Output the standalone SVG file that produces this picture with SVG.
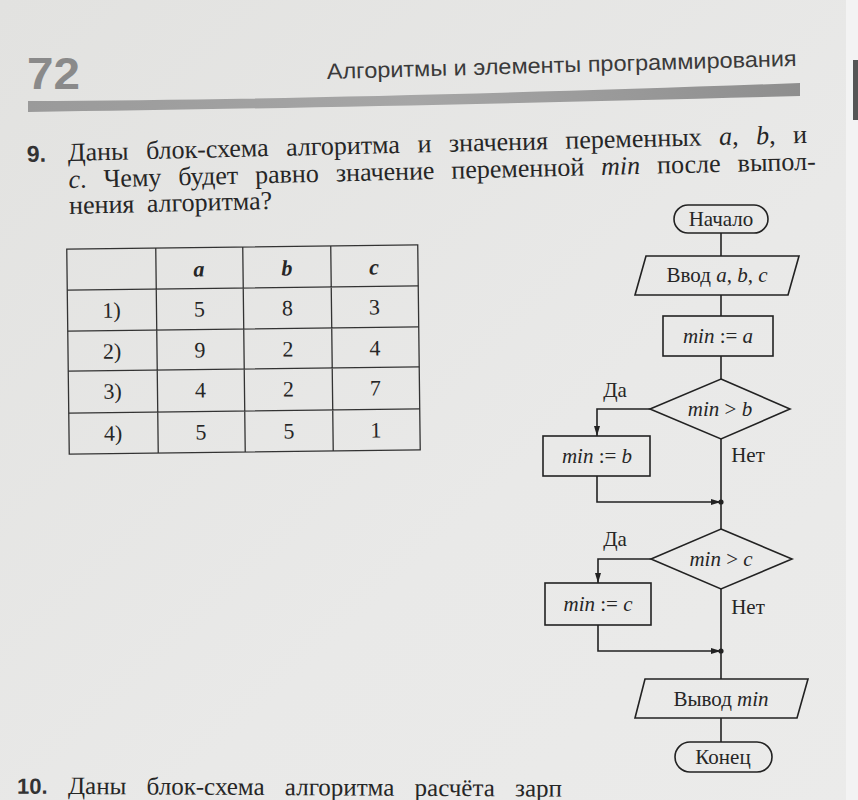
<svg xmlns="http://www.w3.org/2000/svg" width="858" height="800" viewBox="0 0 858 800">
<defs>
<linearGradient id="bg" x1="0" y1="0" x2="1" y2="1">
<stop offset="0" stop-color="#e2e2e0"/>
<stop offset="0.6" stop-color="#e9e9e8"/>
<stop offset="1" stop-color="#ebebea"/>
</linearGradient>
<linearGradient id="band" x1="0" y1="0" x2="1" y2="0">
<stop offset="0" stop-color="#9a9a9a"/>
<stop offset="0.5" stop-color="#a6a6a6"/>
<stop offset="1" stop-color="#8e8e8e"/>
</linearGradient>
<marker id="arr" viewBox="0 0 10 6" refX="10" refY="3" markerWidth="10" markerHeight="6" markerUnits="userSpaceOnUse" orient="auto">
<path d="M0,0 L10,3 L0,6 Z" fill="#222"/>
</marker>
</defs>
<style>
.serif{font-family:"Liberation Serif","DejaVu Serif",serif;fill:#262626}
.sans{font-family:"Liberation Sans","DejaVu Sans",sans-serif}
.it{font-style:italic}
.body{font-size:26px}
.cell{font-size:22px;text-anchor:middle}
.fc{font-size:21px;text-anchor:middle}
.shape{fill:none;stroke:#222;stroke-width:1.6}
.conn{fill:none;stroke:#222;stroke-width:1.6}
.grid{fill:none;stroke:#333;stroke-width:1.3}
</style>
<rect x="0" y="0" width="858" height="800" fill="url(#bg)"/>
<rect x="846" y="0" width="12" height="800" fill="#f3f3f3"/>
<rect x="853" y="60" width="5" height="60" fill="#555"/>

<!-- header -->
<g id="header">
<text x="27" y="89" class="sans" font-size="45" font-weight="bold" fill="#8a8a8a" textLength="53" lengthAdjust="spacingAndGlyphs">72</text>
<text x="327" y="79" class="sans" font-size="22" fill="#3a3a3a" textLength="470" lengthAdjust="spacingAndGlyphs" transform="rotate(-1.6 327 79)">Алгоритмы и элементы программирования</text>
<path d="M28,101 C250,100 500,94 800,83 L800,96 C500,104 250,109 28,112 Z" fill="url(#band)"/>
</g>

<!-- question text -->
<g id="question">
<g transform="rotate(-1.4 68 161)">
<text x="27" y="161" class="sans" font-size="23" font-weight="bold" fill="#333">9.</text>
<text x="68" y="161" class="serif body" word-spacing="11">Даны блок-схема алгоритма и значения переменных <tspan class="it">a</tspan>, <tspan class="it">b</tspan>, и</text>
<text x="68" y="188" class="serif body" word-spacing="10.5"><tspan class="it">c</tspan>. Чему будет равно значение переменной <tspan class="it">min</tspan> после выпол-</text>
<text x="68" y="214" class="serif body" word-spacing="6">нения алгоритма?</text>
</g>
</g>

<!-- table -->
<g id="table" transform="rotate(-0.7 243 350)">
<rect x="68" y="247" width="351" height="205" class="grid"/>
<path d="M157,247 V452 M244,247 V452 M332,247 V452 M68,288 H419 M68,329 H419 M68,369 H419 M68,411 H419" class="grid"/>
<g class="serif cell">
<text x="200" y="276" font-weight="bold" font-style="italic">a</text>
<text x="288" y="276" font-weight="bold" font-style="italic">b</text>
<text x="375" y="276" font-weight="bold" font-style="italic">c</text>
<text x="112" y="316">1)</text><text x="200" y="316">5</text><text x="288" y="316">8</text><text x="375" y="316">3</text>
<text x="112" y="357">2)</text><text x="200" y="357">9</text><text x="288" y="357">2</text><text x="375" y="357">4</text>
<text x="112" y="397">3)</text><text x="200" y="397">4</text><text x="288" y="397">2</text><text x="375" y="397">7</text>
<text x="112" y="439">4)</text><text x="200" y="439">5</text><text x="288" y="439">5</text><text x="375" y="439">1</text>
</g>
</g>

<!-- connectors -->
<g id="connectors">
<path class="conn" d="M721,233 V256"/>
<path class="conn" d="M721,295 V316"/>
<path class="conn" d="M721,356 V379"/>
<path class="conn" d="M650,409 H597 V436" marker-end="url(#arr)"/>
<path class="conn" d="M721,439 V529"/>
<path class="conn" d="M597,476 V502 H721" marker-end="url(#arr)"/>
<circle cx="721" cy="502" r="2.6" fill="#222"/>
<path class="conn" d="M651,559 H598 V583" marker-end="url(#arr)"/>
<path class="conn" d="M721,589 V679"/>
<path class="conn" d="M598,625 V651 H721" marker-end="url(#arr)"/>
<circle cx="721" cy="651" r="2.6" fill="#222"/>
<path class="conn" d="M721,718 V742"/>
</g>

<!-- flowchart nodes -->
<g id="start">
<rect x="674" y="205" width="94" height="28" rx="14" class="shape"/>
<text x="721" y="226" class="serif fc">Начало</text>
</g>
<g id="input">
<polygon points="646,256 799,256 788,295 635,295" class="shape"/>
<text x="717" y="282" class="serif fc">Ввод <tspan class="it">a</tspan>, <tspan class="it">b</tspan>, <tspan class="it">c</tspan></text>
</g>
<g id="assign-a">
<rect x="663" y="316" width="110" height="40" class="shape"/>
<text x="718" y="343" class="serif fc"><tspan class="it">min</tspan> := <tspan class="it">a</tspan></text>
</g>
<g id="cond-b">
<polygon points="721,379 790,409 721,439 650,409" class="shape"/>
<text x="720" y="416" class="serif fc"><tspan class="it">min</tspan> &gt; <tspan class="it">b</tspan></text>
</g>
<g id="yes-b"><text x="615" y="397" class="serif fc">Да</text></g>
<g id="no-b"><text x="748" y="462" class="serif fc">Нет</text></g>
<g id="assign-b">
<rect x="543" y="436" width="107" height="40" class="shape"/>
<text x="597" y="463" class="serif fc"><tspan class="it">min</tspan> := <tspan class="it">b</tspan></text>
</g>
<g id="cond-c">
<polygon points="721,529 792,559 721,589 651,559" class="shape"/>
<text x="721" y="566" class="serif fc"><tspan class="it">min</tspan> &gt; <tspan class="it">c</tspan></text>
</g>
<g id="yes-c"><text x="615" y="546" class="serif fc">Да</text></g>
<g id="no-c"><text x="748" y="614" class="serif fc">Нет</text></g>
<g id="assign-c">
<rect x="545" y="583" width="106" height="42" class="shape"/>
<text x="598" y="611" class="serif fc"><tspan class="it">min</tspan> := <tspan class="it">c</tspan></text>
</g>
<g id="output">
<polygon points="645,679 808,679 797,718 635,718" class="shape"/>
<text x="721" y="706" class="serif fc">Вывод <tspan class="it">min</tspan></text>
</g>
<g id="end">
<rect x="675" y="742" width="97" height="30" rx="15" class="shape"/>
<text x="723" y="764" class="serif fc">Конец</text>
</g>

<!-- next question (at page edge) -->
<g id="next" transform="rotate(0.3 68 794)">
<text x="17" y="794" class="sans" font-size="22" font-weight="bold" fill="#333">10.</text>
<text x="68" y="794" class="serif" font-size="25" word-spacing="14">Даны блок-схема алгоритма расчёта зарп</text>
</g>
</svg>
